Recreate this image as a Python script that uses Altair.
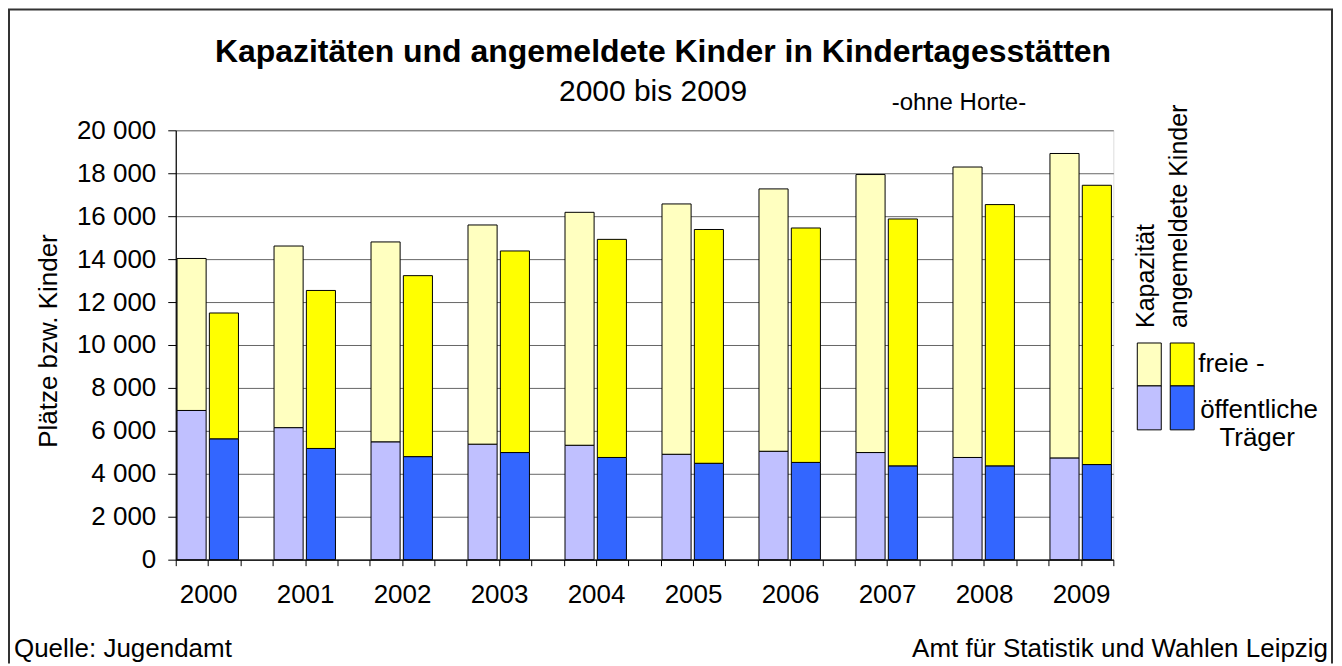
import altair as alt
import pandas as pd
import json

# ---------------- data ----------------
years = [2000, 2001, 2002, 2003, 2004, 2005, 2006, 2007, 2008, 2009]
kap_total = [14030, 14610, 14800, 15590, 16180, 16570, 17270, 17940, 18290, 18920]
kap_oeff = [6950, 6150, 5490, 5380, 5330, 4910, 5050, 4990, 4760, 4740]
ang_total = [11490, 12540, 13230, 14380, 14920, 15380, 15450, 15870, 16540, 17440]
ang_oeff = [5630, 5180, 4800, 4990, 4760, 4490, 4530, 4370, 4370, 4430]

groups = ["Kapazität", "angemeldete Kinder"]
parts = ["öffentliche Träger", "freie Träger"]
keys = [f"{g} – {p}" for g in groups for p in parts]
fill_colors = ["#C0C0FF", "#FFFFC0", "#3366FF", "#FFFF00"]

title_text = "Kapazitäten und angemeldete Kinder in Kindertagesstätten"
subtitle_text = "2000 bis 2009"
note_text = "-ohne Horte-"
y_title = "Plätze bzw. Kinder"
source_left = "Quelle: Jugendamt"
source_right = "Amt für Statistik und Wahlen Leipzig"
legend_free = "freie -"
legend_pub1 = "öffentliche"
legend_pub2 = "Träger"

rows = []
for i, yr in enumerate(years):
    for gi, (tot, oe) in enumerate([(kap_total[i], kap_oeff[i]), (ang_total[i], ang_oeff[i])]):
        slot = 3 * i + gi
        rows.append({"year": yr, "slot": slot, "key": keys[gi * 2], "lo": 0, "hi": oe})
        rows.append({"year": yr, "slot": slot, "key": keys[gi * 2 + 1], "lo": oe, "hi": tot})
df = pd.DataFrame(rows)

FONT = "Liberation Sans"
W, H = 939, 430
PAD = {"left": 168, "top": 122, "right": 221, "bottom": 104}

year_labels = json.dumps([str(y) for y in years])
x_label_expr = f"(datum.value % 3 == 1) ? {year_labels}[floor(datum.value / 3)] : ''"

bars = alt.Chart(df).transform_calculate(
    x0="datum.slot + 0.04", x1="datum.slot + 0.94"
).mark_rect(stroke="black", strokeWidth=1).encode(
    x=alt.X("x0:Q",
            scale=alt.Scale(domain=[0, 29], nice=False, zero=False),
            axis=alt.Axis(values=list(range(30)), labelExpr=x_label_expr, grid=False,
                          domainColor="black", domainWidth=1.2, tickColor="black", tickSize=6,
                          labelFontSize=26, labelPadding=16, labelOverlap=False,
                          labelFlush=False, labelBound=False, title=None, labelColor="black")),
    x2="x1:Q",
    y=alt.Y("lo:Q",
            scale=alt.Scale(domain=[0, 20000], nice=False),
            axis=alt.Axis(values=list(range(0, 20001, 2000)),
                          labelExpr="replace(format(datum.value, ','), ',', ' ')",
                          grid=True, gridColor="#666666", gridWidth=1,
                          domainColor="black", domainWidth=1.2, tickColor="black", tickSize=8,
                          labelFontSize=26, labelPadding=12, title=None, labelColor="black")),
    y2="hi:Q",
    fill=alt.Fill("key:N", scale=alt.Scale(domain=keys, range=fill_colors), legend=None),
)


def txt(label, x, y, size, align="left", angle=0, bold=False):
    return alt.Chart(alt.Data(values=[{"label": label}])).mark_text(
        align=align, baseline="alphabetic", fontSize=size, font=FONT,
        fontWeight="bold" if bold else "normal", angle=angle, color="black"
    ).encode(x=alt.value(x), y=alt.value(y), text="label:N")


def box(x, x2, y, y2, color):
    return alt.Chart(alt.Data(values=[{"k": 1}])).mark_rect(
        fill=color, stroke="black", strokeWidth=1
    ).encode(x=alt.value(x), x2=alt.value(x2), y=alt.value(y), y2=alt.value(y2))


def line(**enc):
    return alt.Chart(alt.Data(values=[{"k": 1}])).mark_rule(
        color="#333333", strokeWidth=2
    ).encode(**{k: alt.value(v) for k, v in enc.items()})


layers = [
    bars,
    # title block
    txt(title_text, 488, -68, 32, align="center", bold=True),
    txt(subtitle_text, 478, -29, 30, align="center"),
    txt(note_text, 717, -20, 24),
    # y axis title
    txt(y_title, -119, 211, 26, align="center", angle=270),
    # legend
    txt(groups[0], 980, 198, 25, angle=270),
    txt(groups[1], 1013, 198, 25, angle=270),
    box(963, 987, 213, 256, fill_colors[1]),
    box(963, 987, 256, 300, fill_colors[0]),
    box(996, 1020, 213, 256, fill_colors[3]),
    box(996, 1020, 256, 300, fill_colors[2]),
    txt(legend_free, 1024, 242, 26),
    txt(legend_pub1, 1085, 288, 26, align="center"),
    txt(legend_pub2, 1083, 316, 26, align="center"),
    # footer
    txt(source_left, -162, 527, 26),
    txt(source_right, 1154, 527, 26, align="right"),
    # outer frame
    line(x=-167, y=-121, y2=H + PAD["bottom"]),
    line(x=1158, y=-121, y2=H + PAD["bottom"]),
    line(x=-168, x2=1159, y=-121),
]

chart = alt.layer(*layers).properties(
    width=W, height=H, padding=PAD,
    autosize=alt.AutoSizeParams(type="none"),
    background="white",
).configure_view(
    stroke="#808080", strokeWidth=1.5
).configure(font=FONT)

chart.save("out.html", embed_options={"renderer": "svg", "actions": False})
